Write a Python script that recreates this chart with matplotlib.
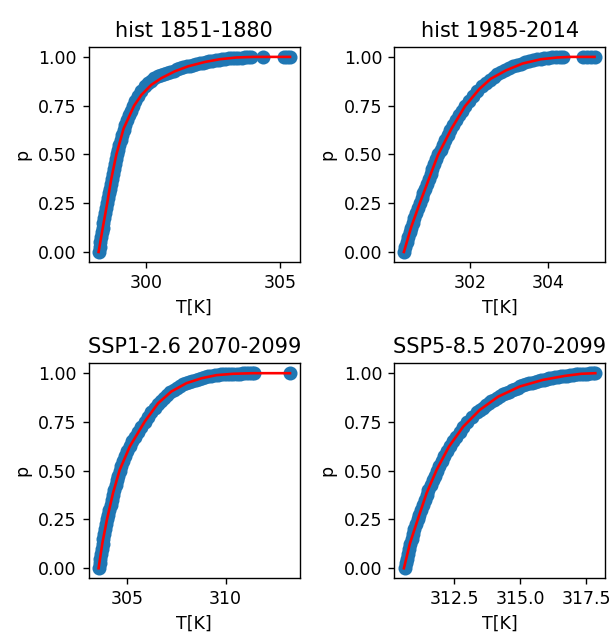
import matplotlib
matplotlib.use("Agg")
import matplotlib.pyplot as plt

titles = ["hist 1851-1880", "hist 1985-2014", "SSP1-2.6 2070-2099", "SSP5-8.5 2070-2099"]

# empirical CDF points (T in K, cumulative probability)
hist1_T = [298.27, 298.29, 298.31, 298.34, 298.37, 298.40, 298.43, 298.46, 298.49, 298.53,
           298.57, 298.60, 298.64, 298.67, 298.70, 298.74, 298.77, 298.81, 298.85, 298.89,
           298.93, 298.97, 299.02, 299.07, 299.12, 299.18, 299.24, 299.30, 299.37, 299.44,
           299.52, 299.61, 299.71, 299.83, 299.96,
           300.08, 300.20, 300.32, 300.44, 300.56, 300.68, 300.80, 300.92, 301.04, 301.16,
           301.28, 301.40, 301.52, 301.64, 301.76, 301.88, 302.00, 302.12, 302.24, 302.36,
           302.48, 302.60, 302.72, 302.84, 302.96, 303.08, 303.20, 303.32, 303.44, 303.56,
           303.68, 303.80, 303.92, 304.37, 305.15, 305.25, 305.36]
hist1_p = [0.0, 0.025, 0.05, 0.075, 0.1, 0.125, 0.15, 0.175, 0.2, 0.225,
           0.25, 0.275, 0.3, 0.325, 0.35, 0.375, 0.4, 0.425, 0.45, 0.475,
           0.5, 0.525, 0.55, 0.575, 0.6, 0.625, 0.65, 0.675, 0.7, 0.725,
           0.75, 0.775, 0.8, 0.825, 0.85,
           0.865, 0.878, 0.89, 0.9, 0.908, 0.913, 0.918, 0.924, 0.93, 0.936,
           0.941, 0.946, 0.951, 0.955, 0.959, 0.963, 0.967, 0.971, 0.975, 0.978,
           0.981, 0.984, 0.986, 0.988, 0.99, 0.992, 0.993, 0.994, 0.995, 0.996,
           0.997, 0.998, 0.998, 0.999, 0.9995, 0.9997, 1.0]

hist2_T = [300.31, 300.34, 300.38, 300.42, 300.46, 300.50, 300.54, 300.58, 300.62, 300.67,
           300.71, 300.76, 300.81, 300.86, 300.90, 300.95, 301.00, 301.04, 301.09, 301.14,
           301.19, 301.25, 301.31, 301.37, 301.44, 301.50, 301.57, 301.64, 301.72, 301.80,
           301.88, 301.97, 302.07, 302.18, 302.30,
           302.40, 302.50, 302.60, 302.70, 302.80, 302.90, 303.00, 303.10, 303.20, 303.30,
           303.40, 303.50, 303.60, 303.70, 303.80, 303.90, 304.00, 304.10, 304.20, 304.30,
           304.38, 304.88, 304.98, 305.08, 305.20]
hist2_p = [0.0, 0.025, 0.05, 0.075, 0.1, 0.125, 0.15, 0.175, 0.2, 0.225,
           0.25, 0.275, 0.3, 0.325, 0.35, 0.375, 0.4, 0.425, 0.45, 0.475,
           0.5, 0.525, 0.55, 0.575, 0.6, 0.625, 0.65, 0.675, 0.7, 0.725,
           0.75, 0.775, 0.8, 0.825, 0.85,
           0.868, 0.884, 0.898, 0.911, 0.922, 0.932, 0.942, 0.951, 0.959, 0.966,
           0.972, 0.978, 0.983, 0.987, 0.99, 0.993, 0.995, 0.997, 0.998, 0.999,
           0.999, 0.9993, 0.9995, 0.9997, 1.0]

ssp126_T = [303.58, 303.61, 303.65, 303.69, 303.72, 303.76, 303.80, 303.84, 303.89, 303.94,
            303.99, 304.05, 304.11, 304.17, 304.23, 304.29, 304.35, 304.42, 304.49, 304.56,
            304.64, 304.72, 304.81, 304.91, 305.02, 305.14, 305.27, 305.41, 305.56, 305.72,
            305.89, 306.06, 306.24,
            306.40, 306.56, 306.72, 306.88, 307.04, 307.20, 307.36, 307.52, 307.68, 307.84,
            308.00, 308.16, 308.32, 308.48, 308.64, 308.80, 308.96, 309.12, 309.28, 309.44,
            309.60, 309.76, 309.92, 310.08, 310.24, 310.40, 310.56, 310.72, 310.88, 311.04,
            311.20, 311.36, 311.45, 313.27]
ssp126_p = [0.0, 0.025, 0.05, 0.075, 0.1, 0.125, 0.15, 0.175, 0.2, 0.225,
            0.25, 0.275, 0.3, 0.325, 0.35, 0.375, 0.4, 0.425, 0.45, 0.475,
            0.5, 0.525, 0.55, 0.575, 0.6, 0.625, 0.65, 0.675, 0.7, 0.725,
            0.75, 0.775, 0.8,
            0.822, 0.842, 0.859, 0.874, 0.888, 0.901, 0.913, 0.924, 0.934, 0.942,
            0.949, 0.956, 0.962, 0.967, 0.972, 0.976, 0.98, 0.984, 0.987, 0.99,
            0.992, 0.994, 0.995, 0.996, 0.997, 0.997, 0.998, 0.998, 0.999, 0.999,
            0.999, 0.9995, 0.9997, 1.0]

ssp585_T = [310.62, 310.66, 310.70, 310.74, 310.78, 310.83, 310.88, 310.93, 310.99, 311.05,
            311.11, 311.17, 311.24, 311.31, 311.38, 311.45, 311.52, 311.60, 311.68, 311.76,
            311.84, 311.93, 312.02, 312.12, 312.22, 312.33, 312.45, 312.57, 312.70, 312.84,
            313.00, 313.17, 313.36,
            313.47, 313.58, 313.69, 313.80, 313.91, 314.02, 314.13, 314.24, 314.35, 314.46,
            314.57, 314.68, 314.79, 314.90, 315.01, 315.12, 315.23, 315.34, 315.45, 315.56,
            315.67, 315.78, 315.89, 316.00, 316.11, 316.22, 316.33, 316.44, 316.55, 316.66,
            316.77, 316.88, 316.99, 317.10, 317.21, 317.32, 317.43, 317.54, 317.65, 317.75,
            317.85]
ssp585_p = [0.0, 0.025, 0.05, 0.075, 0.1, 0.125, 0.15, 0.175, 0.2, 0.225,
            0.25, 0.275, 0.3, 0.325, 0.35, 0.375, 0.4, 0.425, 0.45, 0.475,
            0.5, 0.525, 0.55, 0.575, 0.6, 0.625, 0.65, 0.675, 0.7, 0.725,
            0.75, 0.775, 0.8,
            0.812, 0.824, 0.835, 0.845, 0.855, 0.865, 0.874, 0.883, 0.891, 0.899,
            0.906, 0.913, 0.92, 0.926, 0.932, 0.938, 0.943, 0.948, 0.952, 0.957,
            0.961, 0.964, 0.967, 0.971, 0.974, 0.977, 0.979, 0.982, 0.984, 0.986,
            0.988, 0.99, 0.992, 0.994, 0.995, 0.996, 0.997, 0.998, 0.999, 0.9995,
            1.0]

# fitted CDF (red line)
fit1_T = [298.25, 298.40, 298.57, 298.72, 298.91, 299.18, 299.57, 299.84, 300.21, 300.58,
          301.08, 301.58, 302.20, 302.75, 303.37, 304.00, 305.36]
fit1_p = [0.0, 0.12, 0.25, 0.374, 0.5, 0.633, 0.75, 0.805, 0.857, 0.891,
          0.926, 0.952, 0.974, 0.988, 0.997, 1.0, 1.0]

fit2_T = [300.31, 300.50, 300.71, 300.94, 301.18, 301.52, 301.87, 302.24, 302.53, 302.92,
          303.34, 303.81, 304.23, 304.57, 305.18]
fit2_p = [0.0, 0.13, 0.247, 0.37, 0.497, 0.63, 0.747, 0.836, 0.888, 0.931,
          0.966, 0.988, 0.997, 1.0, 1.0]

fit3_T = [303.56, 303.75, 303.98, 304.29, 304.63, 305.14, 305.90, 306.58, 307.25, 308.02,
          308.78, 309.54, 310.39, 311.41, 313.27]
fit3_p = [0.0, 0.128, 0.248, 0.385, 0.504, 0.624, 0.752, 0.846, 0.906, 0.949,
          0.974, 0.99, 0.997, 1.0, 1.0]

fit4_T = [310.59, 310.82, 311.11, 311.45, 311.83, 312.30, 312.84, 313.47, 314.17, 314.99,
          315.87, 316.69, 317.32, 317.85]
fit4_p = [0.0, 0.128, 0.248, 0.385, 0.504, 0.624, 0.726, 0.812, 0.88, 0.932,
          0.966, 0.986, 0.997, 1.0]

xticks = [[300, 305], [302, 304], [305, 310], [312.5, 315.0, 317.5]]
yticks = [0.0, 0.25, 0.5, 0.75, 1.0]

samples = [(hist1_T, hist1_p), (hist2_T, hist2_p), (ssp126_T, ssp126_p), (ssp585_T, ssp585_p)]
fits = [(fit1_T, fit1_p), (fit2_T, fit2_p), (fit3_T, fit3_p), (fit4_T, fit4_p)]

fig, axes = plt.subplots(2, 2, figsize=(611 / 125, 637 / 125), dpi=125)
fig.subplots_adjust(left=0.1457, right=0.990, bottom=0.0926, top=0.926,
                    wspace=0.45, hspace=0.474)

for ax, title, (T, p), (fT, fp), ticks in zip(axes.flat, titles, samples, fits, xticks):
    ax.scatter(T, p, s=50)
    ax.plot(fT, fp, "r")
    ax.set_xticks(ticks)
    ax.set_yticks(yticks)
    ax.set_title(title)
    ax.set_xlabel("T[K]")
    ax.set_ylabel("p")

fig.savefig("out.png", dpi=125)
